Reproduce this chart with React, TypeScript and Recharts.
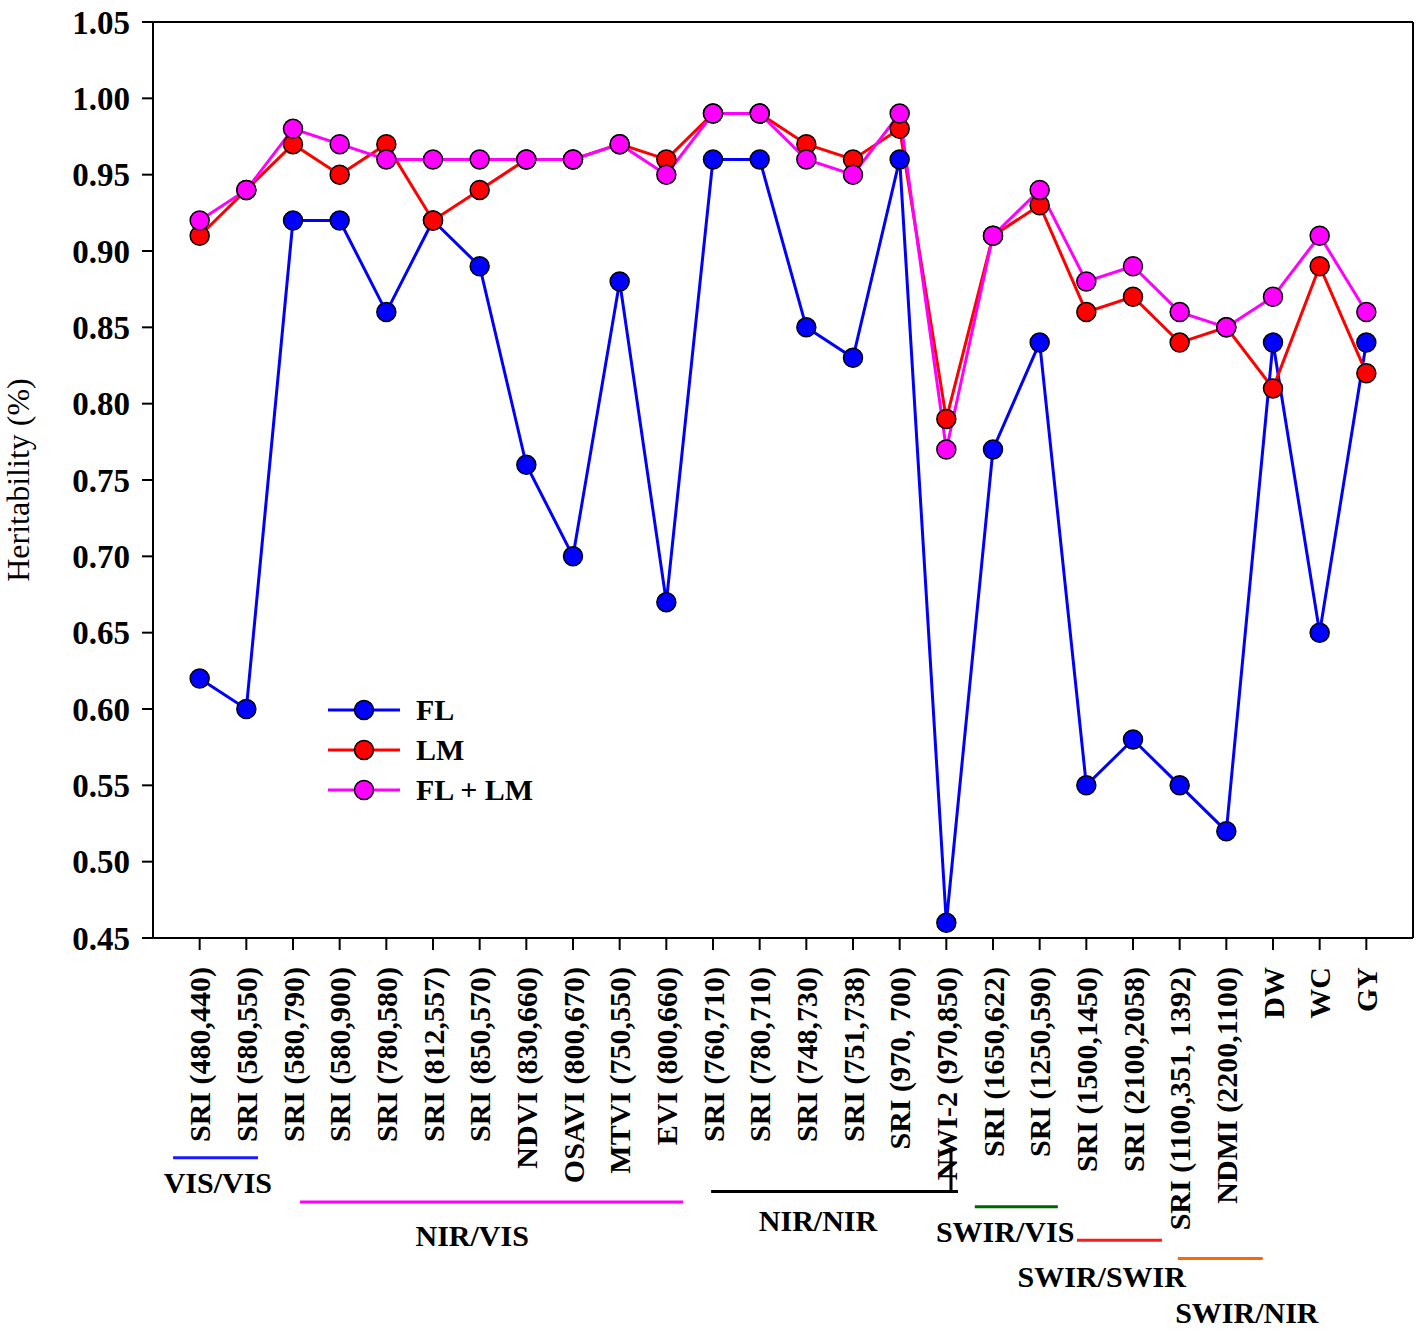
import { LineChart, Line, XAxis, YAxis, ReferenceLine, ReferenceDot } from 'recharts';

const categories = [
  "SRI (480,440)", "SRI (580,550)", "SRI (580,790)", "SRI (580,900)", "SRI (780,580)",
  "SRI (812,557)", "SRI (850,570)", "NDVI (830,660)", "OSAVI (800,670)", "MTVI (750,550)",
  "EVI (800,660)", "SRI (760,710)", "SRI (780,710)", "SRI (748,730)", "SRI (751,738)",
  "SRI (970, 700)", "NWI-2 (970,850)", "SRI (1650,622)", "SRI (1250,590)", "SRI (1500,1450)",
  "SRI (2100,2058)", "SRI (1100,351, 1392)", "NDMI (2200,1100)", "DW", "WC", "GY",
]

const fl = [0.62, 0.60, 0.92, 0.92, 0.86, 0.92, 0.89, 0.76, 0.70, 0.88, 0.67, 0.96, 0.96, 0.85, 0.83, 0.96, 0.46, 0.77, 0.84, 0.55, 0.58, 0.55, 0.52, 0.84, 0.65, 0.84]
const lm = [0.91, 0.94, 0.97, 0.95, 0.97, 0.92, 0.94, 0.96, 0.96, 0.97, 0.96, 0.99, 0.99, 0.97, 0.96, 0.98, 0.79, 0.91, 0.93, 0.86, 0.87, 0.84, 0.85, 0.81, 0.89, 0.82]
const fllm = [0.92, 0.94, 0.98, 0.97, 0.96, 0.96, 0.96, 0.96, 0.96, 0.97, 0.95, 0.99, 0.99, 0.96, 0.95, 0.99, 0.77, 0.91, 0.94, 0.88, 0.89, 0.86, 0.85, 0.87, 0.91, 0.86]

const yTicks = [0.45, 0.50, 0.55, 0.60, 0.65, 0.70, 0.75, 0.80, 0.85, 0.90, 0.95, 1.00, 1.05]

// band groups under the axis, in category units
const groups = [
  { name: "VIS/VIS", from: 0.43, to: 2.25, lineY: 0.306, labelX: 1.39, labelY: 0.290, color: "#1a1aff" },
  { name: "NIR/VIS", from: 3.15, to: 11.36, lineY: 0.277, labelX: 6.84, labelY: 0.255, color: "#ff00ff" },
  { name: "NIR/NIR", from: 11.96, to: 17.25, lineY: 0.284, labelX: 14.25, labelY: 0.265, color: "#000000" },
  { name: "SWIR/VIS", from: 17.61, to: 19.39, lineY: 0.274, labelX: 18.26, labelY: 0.258, color: "#006400" },
  { name: "SWIR/SWIR", from: 19.8, to: 21.62, lineY: 0.252, labelX: 20.33, labelY: 0.228, color: "#ff1a1a" },
  { name: "SWIR/NIR", from: 21.96, to: 23.78, lineY: 0.240, labelX: 23.44, labelY: 0.205, color: "#ff6600" },
]

const series = [
  { key: "fl", name: "FL", color: "#0000ff" },
  { key: "lm", name: "LM", color: "#ff0000" },
  { key: "fllm", name: "FL + LM", color: "#ff00ff" },
]

const data = categories.map((c, i) => ({ idx: i + 1, label: c, fl: fl[i], lm: lm[i], fllm: fllm[i] }))

const FONT = '"Liberation Serif", "Times New Roman", serif'

const CatTick = (props: any) => {
  const { x, y, payload } = props
  const label = categories[payload.value - 1] ?? ''
  return (
    <text x={x} y={y + 15} transform={`rotate(-90, ${x}, ${y + 15})`} textAnchor="end" dy="0.36em"
      fontFamily={FONT} fontWeight="bold" fontSize={30} fill="#000">
      {label}
    </text>
  )
}

const LegendBox = () => (
  <div style={{ position: 'absolute', left: 326, top: 690, fontFamily: FONT, fontWeight: 'bold', fontSize: 30 }}>
    {series.map(s => (
      <div key={s.key} style={{ display: 'flex', alignItems: 'center', height: 40 }}>
        <svg width={76} height={24}>
          <line x1={2} y1={12} x2={74} y2={12} stroke={s.color} strokeWidth={3} />
          <circle cx={38} cy={12} r={9.5} fill={s.color} stroke="#000" strokeWidth={1.5} />
        </svg>
        <span style={{ marginLeft: 14 }}>{s.name}</span>
      </div>
    ))}
  </div>
)

export default function App() {
  return (
    <div style={{ position: 'absolute', left: 0, top: 0, width: 1417, height: 1338, background: '#fff' }}>
      <LineChart width={1417} height={1338} data={data} margin={{ top: 22, right: 4, left: 0, bottom: 0 }}>
        <XAxis dataKey="idx" type="number" domain={[0, 27]} ticks={data.map(d => d.idx)} interval={0}
          height={400} tickSize={12} tickLine={{ stroke: '#000', strokeWidth: 2 }}
          axisLine={{ stroke: '#000', strokeWidth: 2 }} tick={<CatTick />} />
        <YAxis domain={[0.45, 1.05]} ticks={yTicks} width={153} tickSize={11} tickMargin={12} interval={0}
          tickFormatter={(v: number) => v.toFixed(2)}
          tick={{ fontFamily: FONT, fontWeight: 'bold', fontSize: 33, fill: '#000' }}
          tickLine={{ stroke: '#000', strokeWidth: 2 }} axisLine={{ stroke: '#000', strokeWidth: 2 }}
          label={{ value: 'Heritability (%)', angle: -90, position: 'insideLeft', offset: 18, textAnchor: 'middle', fontFamily: FONT, fontSize: 32, fill: '#000' }} />
        <ReferenceLine y={1.05} stroke="#000" strokeWidth={2} />
        <ReferenceLine x={27} stroke="#000" strokeWidth={2} />
        {series.map(s => (
          <Line key={s.key} type="linear" dataKey={s.key} name={s.name} stroke={s.color} strokeWidth={3}
            dot={{ r: 9.5, fill: s.color, stroke: '#000', strokeWidth: 1.5 }} activeDot={false}
            isAnimationActive={false} />
        ))}
        {groups.map(g => (
          <ReferenceLine key={g.name + 'l'} ifOverflow="visible" stroke={g.color} strokeWidth={3}
            segment={[{ x: g.from, y: g.lineY }, { x: g.to, y: g.lineY }]} />
        ))}
        <ReferenceLine ifOverflow="visible" stroke="#000" strokeWidth={3}
          segment={[{ x: 17.1, y: 0.284 }, { x: 17.1, y: 0.311 }]} />
        {groups.map(g => (
          <ReferenceDot key={g.name + 't'} x={g.labelX} y={g.labelY} r={0} ifOverflow="visible"
            shape={(p: any) => (
              <text x={p.cx} y={p.cy} dy="0.35em" textAnchor="middle" fontFamily={FONT}
                fontWeight="bold" fontSize={30} fill="#000">{g.name}</text>
            )} />
        ))}
      </LineChart>
      <LegendBox />
    </div>
  )
}
